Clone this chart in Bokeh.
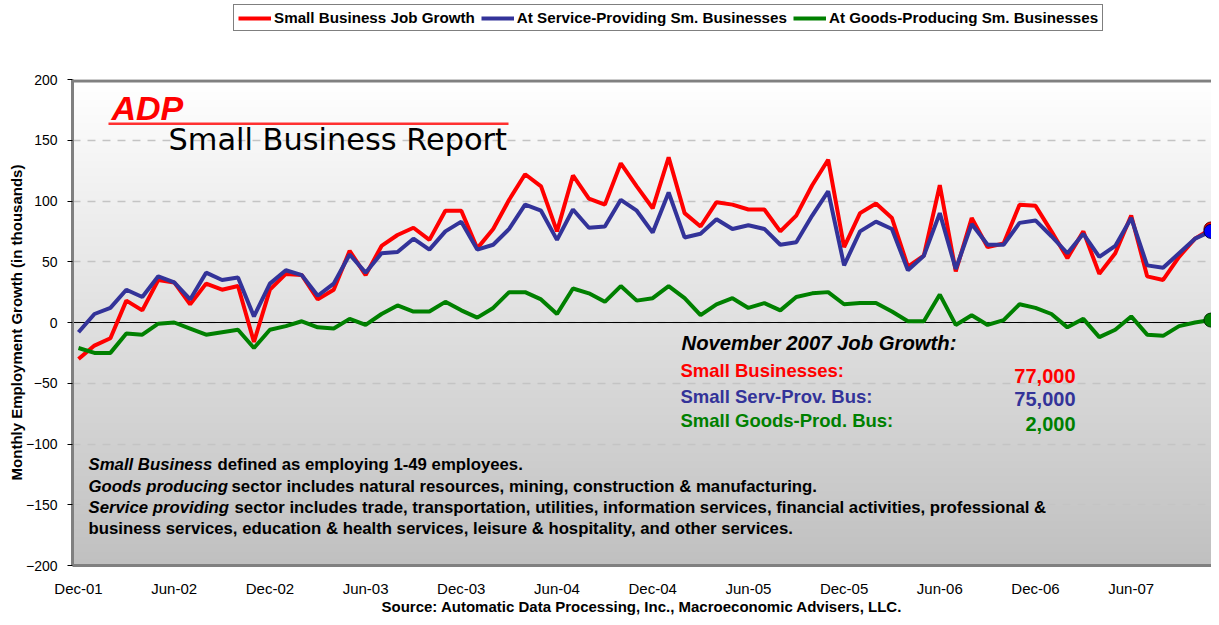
import numpy as np
from bokeh.plotting import figure
from bokeh.layouts import column
from bokeh.models import (Range1d, FixedTicker, Legend, LegendItem,
                          Label, Span, BoxAnnotation)
from bokeh.embed import file_html
from bokeh.resources import INLINE

# ---------------- data (thousands, monthly, Dec-01 .. Nov-07) ----------------
small_business = [-30, -19, -13, 18, 10, 35, 33, 15, 32, 27, 30, -16,
                  27, 40, 39, 19, 27, 59, 39, 63, 72, 78, 68, 92,
                  92, 61, 77, 101, 122, 112, 75, 121, 102, 97, 131, 112,
                  94, 136, 90, 79, 99, 97, 93, 93, 75, 88, 113, 134,
                  62, 90, 98, 86, 46, 55, 113, 42, 86, 62, 65, 97,
                  96, 75, 53, 75, 40, 57, 88, 38, 35, 54, 69, 77]
service_providing = [-8, 7, 12, 27, 21, 38, 33, 19, 41, 35, 37, 5,
                     32, 43, 39, 22, 32, 56, 41, 57, 58, 69, 60, 75,
                     83, 60, 64, 77, 97, 92, 68, 93, 78, 79, 101, 92,
                     74, 107, 70, 73, 85, 77, 80, 77, 64, 66, 88, 108,
                     47, 75, 83, 77, 43, 55, 90, 44, 81, 64, 64, 82,
                     84, 71, 57, 73, 54, 63, 86, 47, 45, 57, 69, 75]
goods_producing = [-21, -25, -25, -9, -10, -1, 0, -5, -10, -8, -6, -21,
                   -6, -3, 1, -4, -5, 3, -2, 7, 14, 9, 9, 17,
                   10, 4, 12, 25, 25, 19, 7, 28, 24, 17, 30, 18,
                   20, 30, 20, 6, 15, 20, 12, 16, 10, 21, 24, 25,
                   15, 16, 16, 9, 1, 1, 23, -2, 6, -2, 2, 15,
                   12, 7, -4, 3, -12, -6, 5, -10, -11, -3, 0, 2]
tick_positions = [0, 6, 12, 18, 24, 30, 36, 42, 48, 54, 60, 66]
tick_labels = ["Dec-01", "Jun-02", "Dec-02", "Jun-03", "Dec-03", "Jun-04",
               "Dec-04", "Jun-05", "Dec-05", "Jun-06", "Dec-06", "Jun-07"]
y_ticks = [-200, -150, -100, -50, 0, 50, 100, 150, 200]
series_names = ["Small Business Job Growth",
                "At Service-Providing Sm. Businesses",
                "At Goods-Producing Sm. Businesses"]
latest_labels = ["Small Businesses:", "Small Serv-Prov. Bus:", "Small Goods-Prod. Bus:"]
latest_values = ["77,000", "75,000", "2,000"]

x = list(range(len(small_business)))
series = [small_business, service_providing, goods_producing]

# ---------------- layout ----------------
W = 1211
LEG_H = 69                   # legend strip height
H = 617 - LEG_H              # main chart height
FL, FT, FB = 72, 10, 52      # frame top lands at picture y = 79
PX_M = 15.95                 # pixels per month
X_START = -6.0 / PX_M
X_END = X_START + (W - FL) / PX_M
PX_U = 486.0 / 400.0         # pixels per thousand


def px_x(X):                 # picture px -> data x
    return (X - 78.0) / PX_M


def px_y(Y):                 # picture px -> data y
    return (322.0 - Y) / PX_U


FONT = "Liberation Sans"
RED, BLUE, GREEN = "#ff0000", "#333399", "#008000"
colors = [RED, BLUE, GREEN]

# ---------------- legend strip ----------------
pl = figure(width=W, height=LEG_H, output_backend="svg", toolbar_location=None,
            x_axis_location=None, y_axis_location=None, min_border=0,
            x_range=Range1d(X_START, X_END), y_range=Range1d(1000, 1001),
            outline_line_color=None, background_fill_color="white",
            border_fill_color="white")
pl.xgrid.visible = False
pl.ygrid.visible = False
leg_renderers = [pl.line(x, s, line_color=col, line_width=4) for s, col in zip(series, colors)]
legend = Legend(items=[LegendItem(label=nm, renderers=[rr])
                       for nm, rr in zip(series_names, leg_renderers)],
                orientation="horizontal", location=(161, 38),
                border_line_color="black", border_line_width=1,
                background_fill_color="white", background_fill_alpha=1.0,
                label_text_font=FONT, label_text_font_style="bold",
                label_text_font_size="15.2px", label_text_color="black",
                glyph_width=33, glyph_height=16, label_height=16,
                label_standoff=3, spacing=6, padding=4, margin=0)
pl.add_layout(legend, "center")

# ---------------- main chart ----------------
p = figure(width=W, height=H, output_backend="svg", toolbar_location=None,
           x_range=Range1d(X_START, X_END), y_range=Range1d(-200, 200),
           min_border_left=FL, min_border_top=FT, min_border_bottom=FB,
           min_border_right=0, background_fill_color="#c0c0c0",
           border_fill_color="white", outline_line_color=None)

# gradient plot area
n = 256
t = np.linspace(0.0, 1.0, n)
c = np.round(192 + 63 * t).astype(np.uint8)
img = np.zeros((n, 1), dtype=np.uint32)
view = img.view(dtype=np.uint8).reshape((n, 1, 4))
view[:, 0, 0] = c
view[:, 0, 1] = c
view[:, 0, 2] = c
view[:, 0, 3] = 255
p.image_rgba(image=[img], x=X_START, y=-200, dw=X_END - X_START, dh=400, level="image")

# grid
p.xgrid.visible = False
p.ygrid.ticker = FixedTicker(ticks=y_ticks)
p.ygrid.grid_line_color = "#c4c4c4"
p.ygrid.grid_line_dash = "8 7"
p.ygrid.grid_line_width = 1.5
p.add_layout(Span(location=0, dimension="width", line_color="black",
                  line_width=1, level="underlay"))
p.add_layout(BoxAnnotation(top=200, bottom=200 - 3.0 / PX_U, fill_color="#808080",
                           fill_alpha=1.0, line_color=None))

# axes
p.yaxis.ticker = FixedTicker(ticks=y_ticks)
p.yaxis.axis_line_color = "#808080"
p.yaxis.axis_line_width = 3
p.yaxis.major_tick_line_color = "black"
p.yaxis.major_tick_out = 5
p.yaxis.major_tick_in = 0
p.yaxis.minor_tick_line_color = None
p.yaxis.major_label_text_font = FONT
p.yaxis.major_label_text_font_size = "14px"
p.yaxis.major_label_text_color = "black"
p.yaxis.major_label_standoff = 10
p.yaxis.axis_label = "Monthly Employment Growth (in thousands)"
p.yaxis.axis_label_text_font = FONT
p.yaxis.axis_label_text_font_style = "bold"
p.yaxis.axis_label_text_font_size = "15px"
p.yaxis.axis_label_text_color = "black"
p.yaxis.axis_label_standoff = -2

p.xaxis.ticker = FixedTicker(ticks=tick_positions)
p.xaxis.major_label_overrides = {pos: lab for pos, lab in zip(tick_positions, tick_labels)}
p.xaxis.axis_line_color = "#808080"
p.xaxis.axis_line_width = 3
p.xaxis.major_tick_line_color = None
p.xaxis.minor_tick_line_color = None
p.xaxis.major_label_text_font = FONT
p.xaxis.major_label_text_font_size = "15px"
p.xaxis.major_label_text_color = "black"
p.xaxis.major_label_standoff = 8
p.xaxis.axis_label = "Source: Automatic Data Processing, Inc., Macroeconomic Advisers, LLC."
p.xaxis.axis_label_text_font = FONT
p.xaxis.axis_label_text_font_style = "bold"
p.xaxis.axis_label_text_font_size = "15px"
p.xaxis.axis_label_text_color = "black"
p.xaxis.axis_label_standoff = -2

# series
for s, col in zip(series, colors):
    p.line(x, s, line_color=col, line_width=4)
p.scatter([x[-1]], [small_business[-1]], size=14, fill_color=RED, line_color="#600000", line_width=1)
p.scatter([x[-1]], [service_providing[-1]], size=14, fill_color="#0000ff", line_color="#000040", line_width=1)
p.scatter([x[-1]], [goods_producing[-1]], size=14, fill_color=GREEN, line_color="#003000", line_width=1)

# ADP logo & report title
p.add_layout(Label(x=px_x(111), y=px_y(107.5), text="ADP", text_font=FONT,
                   text_font_style="bold italic", text_font_size="34px",
                   text_color=RED, text_baseline="middle"))
p.add_layout(BoxAnnotation(left=px_x(108), right=px_x(508), top=px_y(122),
                           bottom=px_y(124.5), fill_color="#ff3030",
                           fill_alpha=1.0, line_color=None))
p.add_layout(Label(x=px_x(168), y=px_y(139), text="Small Business Report",
                   text_font="DejaVu Sans", text_font_size="30.4px",
                   text_color="black", text_baseline="middle"))

# November 2007 box
p.add_layout(Label(x=px_x(681), y=px_y(342), text="November 2007 Job Growth:",
                   text_font=FONT, text_font_style="bold italic",
                   text_font_size="20.3px", text_color="black", text_baseline="middle"))
label_y = [370, 396, 420]
value_y = [375, 398, 423]
for lab, val, col, ly, vy in zip(latest_labels, latest_values, colors, label_y, value_y):
    p.add_layout(Label(x=px_x(680), y=px_y(ly), text=lab, text_font=FONT,
                       text_font_style="bold", text_font_size="18.5px",
                       text_color=col, text_baseline="middle"))
    p.add_layout(Label(x=px_x(1075), y=px_y(vy), text=val, text_font=FONT,
                       text_font_style="bold", text_font_size="20px",
                       text_color=col, text_align="right", text_baseline="middle"))

# definitions
notes = [("Small Business", "defined as employing 1-49 employees.", 464, 217),
         ("Goods producing", "sector includes natural resources, mining, construction & manufacturing.", 486, 231),
         ("Service providing", "sector includes trade, transportation, utilities, information services, financial activities, professional &", 507, 234),
         ("", "business services, education & health services,  leisure & hospitality, and other services.", 528, 88)]
for ital, rest, ny, rx in notes:
    if ital:
        p.add_layout(Label(x=px_x(88), y=px_y(ny), text=ital, text_font=FONT,
                           text_font_style="bold italic", text_font_size="16.75px",
                           text_color="black", text_baseline="middle"))
    p.add_layout(Label(x=px_x(rx), y=px_y(ny), text=rest,
                       text_font=FONT, text_font_style="bold", text_font_size="16.75px",
                       text_color="black", text_baseline="middle"))

layout = column(pl, p, spacing=0)
open("out.html", "w").write(file_html(layout, INLINE))
